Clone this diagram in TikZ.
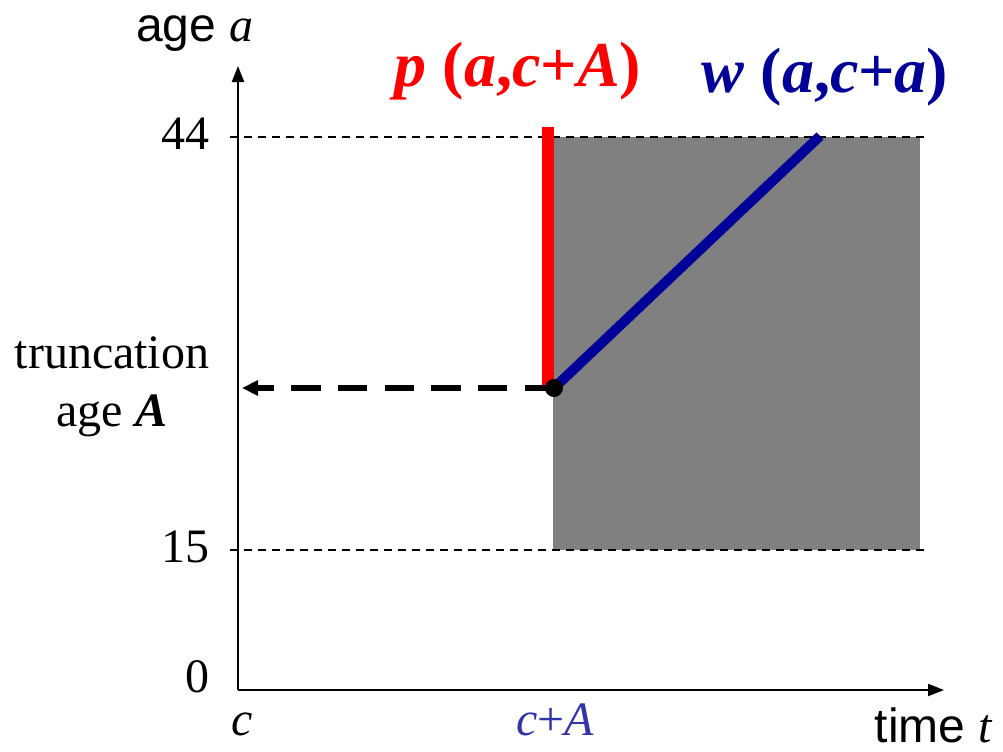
\documentclass[tikz,border=0pt]{standalone}
\usepackage{fontspec}
\setmainfont{Liberation Serif}
\setsansfont{Liberation Sans}
\usetikzlibrary{arrows.meta}
\definecolor{gr}{HTML}{808080}
\definecolor{nv}{HTML}{000099}
\definecolor{lb}{HTML}{3333AA}
\tikzset{
  axis/.style={line width=1.6pt,-{Triangle[length=12pt,width=9pt]}},
  guide/.style={line width=1.1pt,dash pattern=on 6pt off 4.5pt},
  lab/.style={inner sep=0pt,font=\fontsize{36}{38}\selectfont},
  slab/.style={inner sep=0pt,font=\sffamily\fontsize{36}{38}\selectfont},
  flab/.style={inner sep=0pt,font=\bfseries\fontsize{48}{50}\selectfont},
}
\begin{document}
\begin{tikzpicture}[x=0.75pt,y=-0.75pt]
\useasboundingbox (0,0) rectangle (1003,751);
% shaded region
\fill[gr] (553,137) rectangle (920,550);
% guide lines
\coordinate (g44a) at (230,137); \coordinate (g44b) at (925,137);
\coordinate (g15a) at (230,550); \coordinate (g15b) at (925,550);
\draw[guide] (g44a) -- (g44b);
\draw[guide] (g15a) -- (g15b);
% axes
\coordinate (O) at (238,690);
\coordinate (ytip) at (238,66);
\coordinate (xtip) at (944,690);
\draw[axis] (O) -- (ytip);
\draw[axis] (O) -- (xtip);
% lines
\coordinate (P) at (554,388);
\coordinate (Rtop) at (548,127);
\coordinate (Rbot) at (548,388);
\coordinate (Wtop) at (820,136);
\draw[red,line width=9.5pt] (Rbot) -- (Rtop);
\draw[nv,line width=7.5pt] (P) -- (Wtop);
\coordinate (Aend) at (242,388);
\draw[line width=3.8pt,dash pattern=on 22pt off 13pt,-{Triangle[length=12pt,width=11pt]}] (P) -- (Aend);
\fill (P) circle (9);
% labels
\node[slab,anchor=base] (agea) at (195,41) {age \textit{\rmfamily a}};
\node[lab,anchor=base east] (l44) at (210,149) {44};
\node[lab,anchor=base east] (l15) at (210,562) {15};
\node[lab,anchor=base east] (l0) at (210,692) {0};
\node[lab,anchor=base] (tr) at (112,368) {truncation};
\node[lab,anchor=base] (ageA) at (112,426) {age \textbf{\textit{A}}};
\node[lab,anchor=base] (lc) at (242,735) {\textit{c}};
\node[lab,anchor=base,text=lb] (lcA) at (555,735) {\textit{c}+\textit{A}};
\node[slab,anchor=base] (time) at (934,742) {time \textit{\rmfamily t}};
\node[flab,anchor=base,text=red] (pl) at (518,86) {\textit{p} (\textit{a},\textit{c}+\textit{A})};
\node[flab,anchor=base,text=nv] (wl) at (825,92) {\textit{w} (\textit{a},\textit{c}+\textit{a})};
\end{tikzpicture}
\end{document}
